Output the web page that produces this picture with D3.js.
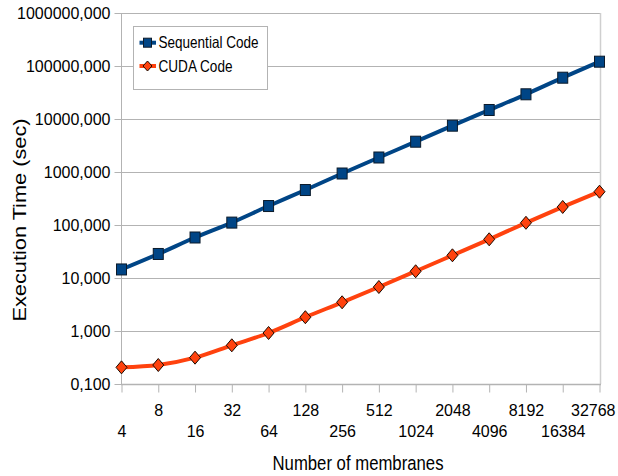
<!DOCTYPE html>
<html>
<head>
<meta charset="utf-8">
<script src="https://cdn.jsdelivr.net/npm/d3@7"></script>
<style>
  html, body { margin: 0; padding: 0; background: #fff; }
  svg { display: block; }
  text { fill: #000; }
</style>
</head>
<body>
<svg id="chart" width="618" height="476"></svg>
<script>
const categories = ["4","8","16","32","64","128","256","512","1024","2048","4096","8192","16384","32768"];
const seqValues = [14.5, 28.4, 58.1, 111, 228, 457, 937, 1878, 3730, 7480, 14790, 29250, 60150, 120600];
const cudaValues = [0.206, 0.228, 0.314, 0.537, 0.917, 1.82, 3.48, 6.76, 13.4, 26.8, 53.7, 110, 219, 425];
const yTickValues = [0.1, 1, 10, 100, 1000, 10000, 100000, 1000000];
const seriesNames = ["Sequential Code", "CUDA Code"];
const seriesColors = ["#004586", "#ff420e"];

(function () {
const svg = d3.select("#chart");
const pLeft = 121, pRight = 600, pTop = 13, pBottom = 384;

const x = d3.scalePoint().domain(categories).range([pLeft + 0.5, pRight - 0.5]);
const y = d3.scaleLog().domain([0.1, 1000000]).range([pBottom, pTop]);

const locale = d3.formatLocale({decimal: ",", thousands: ".", grouping: [3], currency: ["", ""]});
const fmt = locale.format(".3f");

const narrow = "'Liberation Sans Narrow', 'Liberation Sans', Arial, sans-serif";
const regular = "'Liberation Sans', Arial, sans-serif";

// gridlines
svg.append("g").selectAll("line").data(yTickValues).join("line")
  .attr("x1", pLeft).attr("x2", pRight)
  .attr("y1", d => Math.round(y(d)) + 0.5).attr("y2", d => Math.round(y(d)) + 0.5)
  .attr("stroke", "#b3b3b3").attr("stroke-width", 1);

// right border
svg.append("line").attr("x1", pRight + 0.5).attr("x2", pRight + 0.5)
  .attr("y1", pTop).attr("y2", pBottom)
  .attr("stroke", "#cfcfcf").attr("stroke-width", 1.5);

// y axis
const yAxis = svg.append("g").attr("transform", `translate(${pLeft + 0.5},0)`)
  .call(d3.axisLeft(y).tickValues(yTickValues).tickSize(7).tickPadding(4).tickFormat(fmt));
yAxis.select(".domain").remove();
yAxis.selectAll(".tick line").attr("stroke", "#b3b3b3");
yAxis.selectAll(".tick text").attr("font-family", narrow).attr("font-size", 16).attr("fill", "#000").attr("dy", "0.36em");
svg.append("line").attr("x1", pLeft + 0.5).attr("x2", pLeft + 0.5).attr("y1", pTop).attr("y2", pBottom)
  .attr("stroke", "#b3b3b3").attr("stroke-width", 1);

// x axis
const lastIdx = categories.length - 1;
const xAxis = svg.append("g").attr("transform", `translate(0,${pBottom + 0.5})`)
  .call(d3.axisBottom(x).tickSize(8).tickFormat(d => d));
xAxis.select(".domain").remove();
xAxis.selectAll(".tick line").attr("stroke", "#b3b3b3");
xAxis.selectAll(".tick text")
  .attr("font-family", narrow).attr("font-size", 16).attr("fill", "#000")
  .attr("dy", 0)
  .attr("text-anchor", (d, i) => i === lastIdx ? "end" : "middle")
  .attr("x", (d, i) => i === lastIdx ? (615 - x(categories[lastIdx])) : 0)
  .attr("y", (d, i) => i % 2 === 1 ? 31.5 : 52.5);
svg.append("line").attr("x1", pLeft).attr("x2", pRight + 1).attr("y1", pBottom + 0.5).attr("y2", pBottom + 0.5)
  .attr("stroke", "#b3b3b3").attr("stroke-width", 1.5);

// lines
const line = d3.line().curve(d3.curveMonotoneX)
  .x((d, i) => x(categories[i])).y(d => y(d));

[seqValues, cudaValues].forEach((vals, k) => {
  svg.append("path").datum(vals).attr("d", line)
    .attr("fill", "none").attr("stroke", seriesColors[k]).attr("stroke-width", 4)
    .attr("stroke-linejoin", "round");
});

function square(g, cx, cy) {
  g.append("rect").attr("x", cx - 5).attr("y", cy - 5.5).attr("width", 10).attr("height", 11)
    .attr("fill", seriesColors[0]).attr("stroke", "#0b1a2a").attr("stroke-width", 1);
}
function diamond(g, cx, cy) {
  g.append("path").attr("d", `M${cx},${cy - 6.5}L${cx + 5.5},${cy}L${cx},${cy + 6.5}L${cx - 5.5},${cy}Z`)
    .attr("fill", seriesColors[1]).attr("stroke", "#1a0a00").attr("stroke-width", 1);
}

const gm = svg.append("g");
seqValues.forEach((v, i) => square(gm, x(categories[i]), y(v)));
cudaValues.forEach((v, i) => diamond(gm, x(categories[i]), y(v)));

// legend
const lg = svg.append("g");
lg.append("rect").attr("x", 133.5).attr("y", 26.5).attr("width", 134).attr("height", 63)
  .attr("fill", "#fff").attr("stroke", "#b3b3b3").attr("stroke-width", 1);
const legendRows = [42.7, 66];
seriesNames.forEach((name, k) => {
  const cy = legendRows[k];
  lg.append("line").attr("x1", 139.5).attr("x2", 156).attr("y1", cy).attr("y2", cy)
    .attr("stroke", seriesColors[k]).attr("stroke-width", 4);
  if (k === 0) {
    lg.append("rect").attr("x", 143.5).attr("y", cy - 4.5).attr("width", 8).attr("height", 9)
      .attr("fill", seriesColors[0]).attr("stroke", "#0b1a2a").attr("stroke-width", 1);
  } else {
    lg.append("path").attr("d", `M147.5,${cy - 5}L152,${cy}L147.5,${cy + 5}L143,${cy}Z`)
      .attr("fill", seriesColors[1]).attr("stroke", "#1a0a00").attr("stroke-width", 1);
  }
  lg.append("text").attr("x", 158.5).attr("y", cy + 5.7)
    .attr("font-family", narrow).attr("font-size", 16.5)
    .attr("textLength", k === 0 ? 100 : 74).attr("lengthAdjust", "spacingAndGlyphs")
    .text(name);
});

// axis titles
svg.append("text").attr("transform", "translate(25.7,220) rotate(-90)")
  .attr("text-anchor", "middle").attr("font-family", regular).attr("font-size", 18)
  .attr("textLength", 203).attr("lengthAdjust", "spacingAndGlyphs")
  .text("Execution Time (sec)");
svg.append("text").attr("x", 358).attr("y", 470)
  .attr("text-anchor", "middle").attr("font-family", narrow).attr("font-size", 20.5)
  .attr("textLength", 171).attr("lengthAdjust", "spacingAndGlyphs")
  .text("Number of membranes");
})();
</script>
</body>
</html>
